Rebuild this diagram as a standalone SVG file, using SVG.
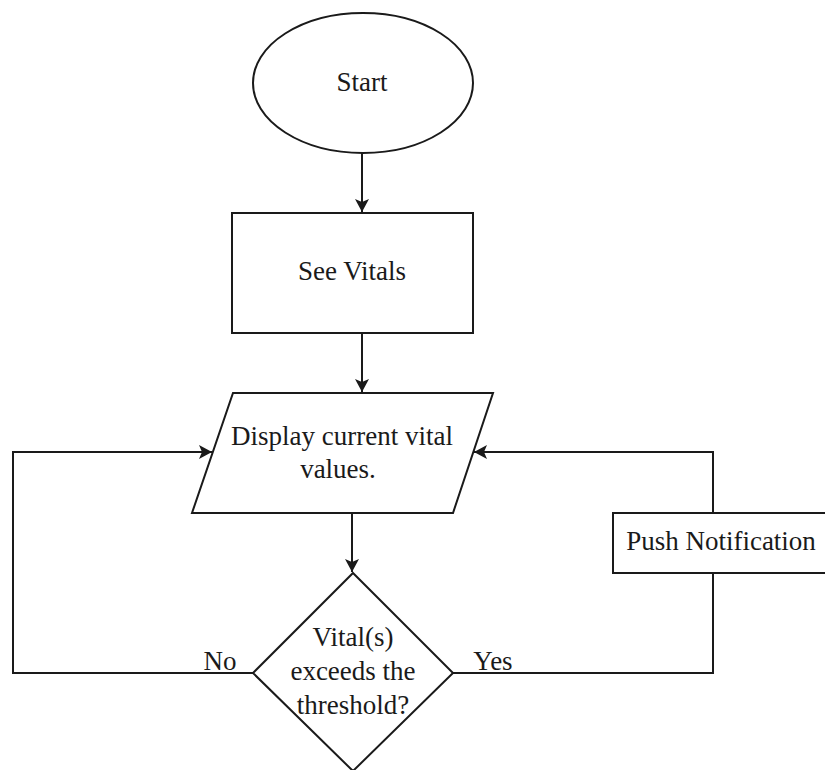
<svg xmlns="http://www.w3.org/2000/svg" width="825" height="770" viewBox="0 0 825 770">
<style>
.shape{fill:#ffffff;stroke:#1a1a1a;stroke-width:2}
.edge{fill:none;stroke:#1a1a1a;stroke-width:2}
.t{font-family:"Liberation Serif","Times New Roman",serif;font-size:27px;fill:#1a1a1a;text-anchor:middle}
</style>
<defs>
<marker id="arr" markerUnits="userSpaceOnUse" markerWidth="14" markerHeight="14" refX="13" refY="7" orient="auto">
<path d="M0,0 L13,7 L0,14 L3,7 z" fill="#1a1a1a"/>
</marker>
</defs>
<rect width="825" height="770" fill="#ffffff"/>
<g id="connectors">
<path class="edge" d="M362,153 L362,212" marker-end="url(#arr)"/>
<path class="edge" d="M362,333 L362,392" marker-end="url(#arr)"/>
<path class="edge" d="M352,513 L352,572" marker-end="url(#arr)"/>
<path class="edge" d="M253,673 L13,673 L13,452 L212,452" marker-end="url(#arr)"/>
<path class="edge" d="M453,673 L713,673 L713,573"/>
<path class="edge" d="M713,513 L713,452 L474,452" marker-end="url(#arr)"/>
<text class="t" x="220" y="670">No</text>
<text class="t" x="493" y="670">Yes</text>
</g>
<g id="start">
<ellipse class="shape" cx="363" cy="83" rx="110" ry="70"/>
<text class="t" x="362" y="91">Start</text>
</g>
<g id="see-vitals">
<rect class="shape" x="232" y="213" width="241" height="120"/>
<text class="t" x="352" y="280">See Vitals</text>
</g>
<g id="display">
<polygon class="shape" points="233,393 493,393 453,513 192,513"/>
<text class="t" x="342" y="445">Display current vital</text>
<text class="t" x="338" y="478">values.</text>
</g>
<g id="decision">
<polygon class="shape" points="353,573 453,673 353,771 253,673"/>
<text class="t" x="353" y="646">Vital(s)</text>
<text class="t" x="353" y="680">exceeds the</text>
<text class="t" x="353" y="714">threshold?</text>
</g>
<g id="push">
<rect class="shape" x="613" y="513" width="220" height="60"/>
<text class="t" x="721" y="550">Push Notification</text>
</g>
</svg>
